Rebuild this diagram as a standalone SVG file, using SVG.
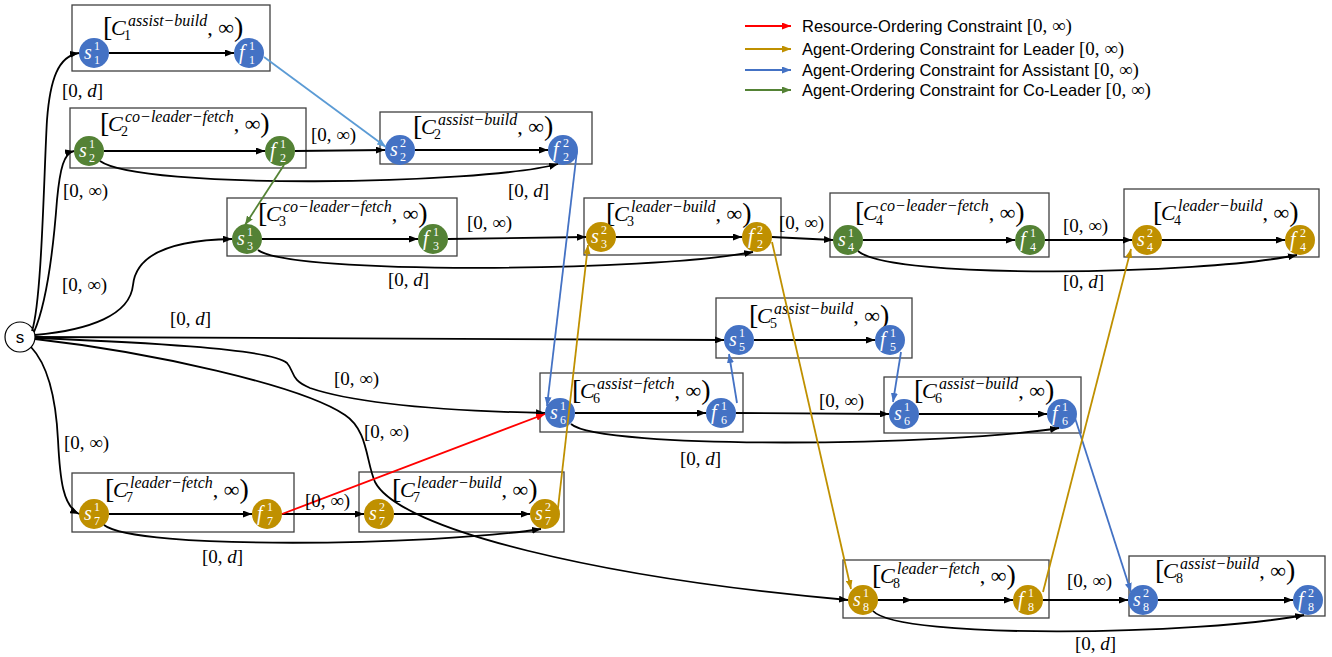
<svg xmlns="http://www.w3.org/2000/svg" width="1332" height="657" viewBox="0 0 1332 657">
<style>
.bx{fill:none;stroke:#404040;stroke-width:1.3}
.e{fill:none;stroke:#000;stroke-width:1.8}
.cb{fill:#4472C4}.cg{fill:#548235}.co{fill:#BF9000}
.nl{font-family:"Liberation Serif",serif;font-style:italic;font-size:20px;fill:#fff}
.d{font-style:normal;font-size:12px}
.tt{font-family:"Liberation Serif",serif;font-size:22px;fill:#000}
.bk{font-size:28px;font-style:normal}
.cc{font-style:italic}
.sb{font-size:14px}
.sp{font-size:16px;font-style:italic}
.lb{font-family:"Liberation Serif",serif;font-size:19px;fill:#000}
.it{font-style:italic}
.lg{font-family:"Liberation Sans",Arial,sans-serif;font-size:16.5px;fill:#000}
.lm{font-family:"Liberation Serif",serif;font-size:19px}
</style>
<defs>
<marker id="ak" markerUnits="userSpaceOnUse" viewBox="0 0 9 7" refX="9" refY="3.5" markerWidth="9" markerHeight="7" orient="auto"><path d="M0,0L9,3.5L0,7z" fill="#000"/></marker>
<marker id="ar" markerUnits="userSpaceOnUse" viewBox="0 0 9 7" refX="9" refY="3.5" markerWidth="9" markerHeight="7" orient="auto"><path d="M0,0L9,3.5L0,7z" fill="#FF0000"/></marker>
<marker id="ao" markerUnits="userSpaceOnUse" viewBox="0 0 9 7" refX="9" refY="3.5" markerWidth="9" markerHeight="7" orient="auto"><path d="M0,0L9,3.5L0,7z" fill="#BF9000"/></marker>
<marker id="ab" markerUnits="userSpaceOnUse" viewBox="0 0 9 7" refX="9" refY="3.5" markerWidth="9" markerHeight="7" orient="auto"><path d="M0,0L9,3.5L0,7z" fill="#4472C4"/></marker>
<marker id="al" markerUnits="userSpaceOnUse" viewBox="0 0 9 7" refX="9" refY="3.5" markerWidth="9" markerHeight="7" orient="auto"><path d="M0,0L9,3.5L0,7z" fill="#5B9BD5"/></marker>
<marker id="ag" markerUnits="userSpaceOnUse" viewBox="0 0 9 7" refX="9" refY="3.5" markerWidth="9" markerHeight="7" orient="auto"><path d="M0,0L9,3.5L0,7z" fill="#548235"/></marker>
</defs>
<rect width="1332" height="657" fill="#fff"/>

<g id="node-s">
<circle cx="20" cy="337" r="15" fill="#fff" stroke="#000" stroke-width="1.2"/>
<text x="20" y="343" text-anchor="middle" font-family="Liberation Sans,Arial,sans-serif" font-size="17">s</text>
</g>

<!-- Box 1 -->
<g id="box-c1-assist-build">
<rect class="bx" x="72" y="5" width="198" height="66"/>
<text class="tt"><tspan class="bk" x="103" y="36">[</tspan><tspan class="cc" x="111" y="35">C</tspan><tspan class="sb" x="124" y="40">1</tspan><tspan class="sp" x="128" y="26">assist−build</tspan><tspan y="35">, ∞</tspan><tspan class="bk" y="36">)</tspan></text>
<g id="n-s1-1"><circle class="cb" cx="94" cy="53" r="15"/><text class="nl" x="84" y="59">s<tspan class="d" x="94" y="50">1</tspan><tspan class="d" x="94" y="64">1</tspan></text></g>
<g id="n-f1-1"><circle class="cb" cx="249" cy="53" r="15"/><text class="nl" x="239" y="59">f<tspan class="d" x="249" y="50">1</tspan><tspan class="d" x="249" y="64">1</tspan></text></g>
</g>

<!-- Box 2 -->
<g id="box-c2-coleader-fetch">
<rect class="bx" x="70" y="108" width="236" height="60"/>
<text class="tt"><tspan class="bk" x="100" y="132">[</tspan><tspan class="cc" x="108" y="131">C</tspan><tspan class="sb" x="121" y="136">2</tspan><tspan class="sp" x="125" y="122">co−leader−fetch</tspan><tspan y="131">, ∞</tspan><tspan class="bk" y="132">)</tspan></text>
<g id="n-s2-1"><circle class="cg" cx="89" cy="151" r="15"/><text class="nl" x="79" y="157">s<tspan class="d" x="89" y="148">1</tspan><tspan class="d" x="89" y="162">2</tspan></text></g>
<g id="n-f2-1"><circle class="cg" cx="280" cy="151" r="15"/><text class="nl" x="270" y="157">f<tspan class="d" x="280" y="148">1</tspan><tspan class="d" x="280" y="162">2</tspan></text></g>
</g>

<!-- Box 2b -->
<g id="box-c2-assist-build">
<rect class="bx" x="380" y="112" width="212" height="52"/>
<text class="tt"><tspan class="bk" x="413" y="135">[</tspan><tspan class="cc" x="421" y="134">C</tspan><tspan class="sb" x="434" y="139">2</tspan><tspan class="sp" x="438" y="125">assist−build</tspan><tspan y="134">, ∞</tspan><tspan class="bk" y="135">)</tspan></text>
<g id="n-s2-2"><circle class="cb" cx="400" cy="150" r="15"/><text class="nl" x="390" y="156">s<tspan class="d" x="400" y="147">2</tspan><tspan class="d" x="400" y="161">2</tspan></text></g>
<g id="n-f2-2"><circle class="cb" cx="563" cy="150" r="15"/><text class="nl" x="553" y="156">f<tspan class="d" x="563" y="147">2</tspan><tspan class="d" x="563" y="161">2</tspan></text></g>
</g>

<!-- Box 3 -->
<g id="box-c3-coleader-fetch">
<rect class="bx" x="227" y="198" width="230" height="58"/>
<text class="tt"><tspan class="bk" x="258" y="222">[</tspan><tspan class="cc" x="266" y="221">C</tspan><tspan class="sb" x="279" y="226">3</tspan><tspan class="sp" x="283" y="212">co−leader−fetch</tspan><tspan y="221">, ∞</tspan><tspan class="bk" y="222">)</tspan></text>
<g id="n-s3-1"><circle class="cg" cx="247" cy="239" r="15"/><text class="nl" x="237" y="245">s<tspan class="d" x="247" y="236">1</tspan><tspan class="d" x="247" y="250">3</tspan></text></g>
<g id="n-f3-1"><circle class="cg" cx="433" cy="239" r="15"/><text class="nl" x="423" y="245">f<tspan class="d" x="433" y="236">1</tspan><tspan class="d" x="433" y="250">3</tspan></text></g>
</g>

<!-- Box 3b -->
<g id="box-c3-leader-build">
<rect class="bx" x="584" y="198" width="197" height="57"/>
<text class="tt"><tspan class="bk" x="606" y="222">[</tspan><tspan class="cc" x="614" y="221">C</tspan><tspan class="sb" x="627" y="226">3</tspan><tspan class="sp" x="631" y="212" font-size="15">leader−build</tspan><tspan y="221">, ∞</tspan><tspan class="bk" y="222">)</tspan></text>
<g id="n-s3-2"><circle class="co" cx="601" cy="237" r="15"/><text class="nl" x="591" y="243">s<tspan class="d" x="601" y="234">2</tspan><tspan class="d" x="601" y="248">3</tspan></text></g>
<g id="n-f3-2"><circle class="co" cx="757" cy="237" r="15"/><text class="nl" x="748" y="243">f<tspan class="d" x="757" y="234">2</tspan><tspan class="d" x="757" y="248">2</tspan></text></g>
</g>

<!-- Box 4 -->
<g id="box-c4-coleader-fetch">
<rect class="bx" x="830" y="193" width="219" height="64"/>
<text class="tt"><tspan class="bk" x="855" y="221">[</tspan><tspan class="cc" x="863" y="220">C</tspan><tspan class="sb" x="876" y="225">4</tspan><tspan class="sp" x="880" y="211">co−leader−fetch</tspan><tspan y="220">, ∞</tspan><tspan class="bk" y="221">)</tspan></text>
<g id="n-s4-1"><circle class="cg" cx="848" cy="240" r="15"/><text class="nl" x="838" y="246">s<tspan class="d" x="848" y="237">1</tspan><tspan class="d" x="848" y="251">4</tspan></text></g>
<g id="n-f4-1"><circle class="cg" cx="1030" cy="240" r="15"/><text class="nl" x="1020" y="246">f<tspan class="d" x="1030" y="237">1</tspan><tspan class="d" x="1030" y="251">4</tspan></text></g>
</g>

<!-- Box 4b -->
<g id="box-c4-leader-build">
<rect class="bx" x="1124" y="189" width="195" height="68"/>
<text class="tt"><tspan class="bk" x="1153" y="221">[</tspan><tspan class="cc" x="1161" y="220">C</tspan><tspan class="sb" x="1174" y="225">4</tspan><tspan class="sp" x="1178" y="211">leader−build</tspan><tspan y="220">, ∞</tspan><tspan class="bk" y="221">)</tspan></text>
<g id="n-s4-2"><circle class="co" cx="1147" cy="240" r="15"/><text class="nl" x="1137" y="246">s<tspan class="d" x="1147" y="237">2</tspan><tspan class="d" x="1147" y="251">4</tspan></text></g>
<g id="n-f4-2"><circle class="co" cx="1300" cy="240" r="15"/><text class="nl" x="1290" y="246">f<tspan class="d" x="1300" y="237">2</tspan><tspan class="d" x="1300" y="251">4</tspan></text></g>
</g>

<!-- Box 5 -->
<g id="box-c5-assist-build">
<rect class="bx" x="716" y="298" width="196" height="60"/>
<text class="tt"><tspan class="bk" x="749" y="324">[</tspan><tspan class="cc" x="757" y="323">C</tspan><tspan class="sb" x="770" y="328">5</tspan><tspan class="sp" x="774" y="314">assist−build</tspan><tspan y="323">, ∞</tspan><tspan class="bk" y="324">)</tspan></text>
<g id="n-s5-1"><circle class="cb" cx="739" cy="340" r="15"/><text class="nl" x="729" y="346">s<tspan class="d" x="739" y="337">1</tspan><tspan class="d" x="739" y="351">5</tspan></text></g>
<g id="n-f5-1"><circle class="cb" cx="890" cy="340" r="15"/><text class="nl" x="880" y="346">f<tspan class="d" x="890" y="337">1</tspan><tspan class="d" x="890" y="351">5</tspan></text></g>
</g>

<!-- Box 6 -->
<g id="box-c6-assist-fetch">
<rect class="bx" x="540" y="373" width="203" height="59"/>
<text class="tt"><tspan class="bk" x="572" y="399">[</tspan><tspan class="cc" x="580" y="398">C</tspan><tspan class="sb" x="593" y="403">6</tspan><tspan class="sp" x="597" y="389">assist−fetch</tspan><tspan y="398">, ∞</tspan><tspan class="bk" y="399">)</tspan></text>
<g id="n-s6-1"><circle class="cb" cx="560" cy="413" r="15"/><text class="nl" x="550" y="419">s<tspan class="d" x="560" y="410">1</tspan><tspan class="d" x="560" y="424">6</tspan></text></g>
<g id="n-f6-1"><circle class="cb" cx="721" cy="413" r="15"/><text class="nl" x="711" y="419">f<tspan class="d" x="721" y="410">1</tspan><tspan class="d" x="721" y="424">6</tspan></text></g>
</g>

<!-- Box 6b -->
<g id="box-c6-assist-build">
<rect class="bx" x="884" y="377" width="197" height="56"/>
<text class="tt"><tspan class="bk" x="914" y="399">[</tspan><tspan class="cc" x="922" y="398">C</tspan><tspan class="sb" x="935" y="403">6</tspan><tspan class="sp" x="939" y="389">assist−build</tspan><tspan y="398">, ∞</tspan><tspan class="bk" y="399">)</tspan></text>
<g id="n-s6-1b"><circle class="cb" cx="904" cy="414" r="15"/><text class="nl" x="894" y="420">s<tspan class="d" x="904" y="411">1</tspan><tspan class="d" x="904" y="425">6</tspan></text></g>
<g id="n-f6-1b"><circle class="cb" cx="1062" cy="414" r="15"/><text class="nl" x="1052" y="420">f<tspan class="d" x="1062" y="411">1</tspan><tspan class="d" x="1062" y="425">6</tspan></text></g>
</g>

<!-- Box 7 -->
<g id="box-c7-leader-fetch">
<rect class="bx" x="72" y="473" width="222" height="59"/>
<text class="tt"><tspan class="bk" x="105" y="498">[</tspan><tspan class="cc" x="113" y="497">C</tspan><tspan class="sb" x="126" y="502">7</tspan><tspan class="sp" x="130" y="488">leader−fetch</tspan><tspan y="497">, ∞</tspan><tspan class="bk" y="498">)</tspan></text>
<g id="n-s7-1"><circle class="co" cx="94" cy="514" r="15"/><text class="nl" x="84" y="520">s<tspan class="d" x="94" y="511">1</tspan><tspan class="d" x="94" y="525">7</tspan></text></g>
<g id="n-f7-1"><circle class="co" cx="267" cy="514" r="15"/><text class="nl" x="257" y="520">f<tspan class="d" x="267" y="511">1</tspan><tspan class="d" x="267" y="525">7</tspan></text></g>
</g>

<!-- Box 7b -->
<g id="box-c7-leader-build">
<rect class="bx" x="359" y="472" width="205" height="60"/>
<text class="tt"><tspan class="bk" x="392" y="498">[</tspan><tspan class="cc" x="400" y="497">C</tspan><tspan class="sb" x="413" y="502">7</tspan><tspan class="sp" x="417" y="488">leader−build</tspan><tspan y="497">, ∞</tspan><tspan class="bk" y="498">)</tspan></text>
<g id="n-s7-2"><circle class="co" cx="379" cy="514" r="15"/><text class="nl" x="369" y="520">s<tspan class="d" x="379" y="511">2</tspan><tspan class="d" x="379" y="525">7</tspan></text></g>
<g id="n-f7-2"><circle class="co" cx="545" cy="514" r="15"/><text class="nl" x="535" y="520">s<tspan class="d" x="545" y="511">2</tspan><tspan class="d" x="545" y="525">7</tspan></text></g>
</g>

<!-- Box 8 -->
<g id="box-c8-leader-fetch">
<rect class="bx" x="843" y="560" width="206" height="58"/>
<text class="tt"><tspan class="bk" x="872" y="584">[</tspan><tspan class="cc" x="880" y="583">C</tspan><tspan class="sb" x="893" y="588">8</tspan><tspan class="sp" x="897" y="574">leader−fetch</tspan><tspan y="583">, ∞</tspan><tspan class="bk" y="584">)</tspan></text>
<g id="n-s8-1"><circle class="co" cx="863" cy="600" r="15"/><text class="nl" x="853" y="606">s<tspan class="d" x="863" y="597">1</tspan><tspan class="d" x="863" y="611">8</tspan></text></g>
<g id="n-f8-1"><circle class="co" cx="1028" cy="600" r="15"/><text class="nl" x="1018" y="606">f<tspan class="d" x="1028" y="597">1</tspan><tspan class="d" x="1028" y="611">8</tspan></text></g>
</g>

<!-- Box 8b -->
<g id="box-c8-assist-build">
<rect class="bx" x="1129" y="556" width="196" height="60"/>
<text class="tt"><tspan class="bk" x="1155" y="579">[</tspan><tspan class="cc" x="1163" y="578">C</tspan><tspan class="sb" x="1176" y="583">8</tspan><tspan class="sp" x="1180" y="569">assist−build</tspan><tspan y="578">, ∞</tspan><tspan class="bk" y="579">)</tspan></text>
<g id="n-s8-2"><circle class="cb" cx="1143" cy="600" r="15"/><text class="nl" x="1133" y="606">s<tspan class="d" x="1143" y="597">2</tspan><tspan class="d" x="1143" y="611">8</tspan></text></g>
<g id="n-f8-2"><circle class="cb" cx="1308" cy="600" r="15"/><text class="nl" x="1298" y="606">f<tspan class="d" x="1308" y="597">2</tspan><tspan class="d" x="1308" y="611">8</tspan></text></g>
</g>

<g id="connectors">
<!-- from s -->
<path class="e" marker-end="url(#ak)" d="M32,331 C42,300 44,170 47,120 C50,80 58,56 79,53"/>
<path class="e" marker-end="url(#ak)" d="M34,332 C48,300 54,240 57,200 C60,168 64,153 74,151"/>
<path class="e" marker-end="url(#ak)" d="M35,335 C90,330 130,315 133,285 C136,255 170,240 232,239"/>
<path class="e" marker-end="url(#ak)" d="M35,337 L724,340"/>
<path class="e" marker-end="url(#ak)" d="M35,338 C130,342 270,348 287,363 C295,372 290,380 310,388 C360,405 450,411 545,413"/>
<path class="e" marker-end="url(#ak)" d="M35,339 C150,352 300,385 345,415 C368,430 366,462 375,482 C400,530 600,578 848,600"/>
<path class="e" marker-end="url(#ak)" d="M31,347 C48,365 56,400 58,440 C60,480 63,506 79,514"/>
<!-- within / between boxes -->
<path class="e" marker-end="url(#ak)" d="M109,53 L234,53"/>
<path class="e" marker-end="url(#ak)" d="M104,151 L265,151"/>
<path class="e" marker-end="url(#ak)" d="M295,151 L385,150"/>
<path class="e" marker-end="url(#ak)" d="M415,150 L548,150"/>
<path class="e" marker-end="url(#ak)" d="M100,161 C140,190 480,185 558,164"/>
<path class="e" marker-end="url(#ak)" d="M262,239 L418,239"/>
<path class="e" marker-end="url(#ak)" d="M448,239 L586,237"/>
<path class="e" marker-end="url(#ak)" d="M616,237 L742,237"/>
<path class="e" marker-end="url(#ak)" d="M258,250 C290,275 650,272 753,252"/>
<path class="e" marker-end="url(#ak)" d="M772,237 L833,240"/>
<path class="e" marker-end="url(#ak)" d="M863,240 L1015,240"/>
<path class="e" marker-end="url(#ak)" d="M1045,240 L1132,240"/>
<path class="e" marker-end="url(#ak)" d="M1162,240 L1285,240"/>
<path class="e" marker-end="url(#ak)" d="M858,251 C890,280 1200,275 1297,255"/>
<path class="e" marker-end="url(#ak)" d="M754,340 L875,340"/>
<path class="e" marker-end="url(#ak)" d="M575,413 L706,413"/>
<path class="e" marker-end="url(#ak)" d="M736,413 L889,414"/>
<path class="e" marker-end="url(#ak)" d="M919,414 L1047,414"/>
<path class="e" marker-end="url(#ak)" d="M571,424 C600,450 950,446 1059,428"/>
<path class="e" marker-end="url(#ak)" d="M109,514 L252,514"/>
<path class="e" marker-end="url(#ak)" d="M282,514 L364,514"/>
<path class="e" marker-end="url(#ak)" d="M394,514 L530,514"/>
<path class="e" marker-end="url(#ak)" d="M104,525 C135,550 430,546 541,529"/>
<path class="e" marker-mid="url(#ak)" marker-end="url(#ak)" d="M878,600 L912,600 L1013,600"/>
<path class="e" marker-end="url(#ak)" d="M1043,600 L1128,600"/>
<path class="e" marker-end="url(#ak)" d="M1158,600 L1293,600"/>
<path class="e" marker-end="url(#ak)" d="M873,611 C900,640 1200,635 1304,615"/>
<!-- coloured ordering constraints -->
<path fill="none" stroke="#5B9BD5" stroke-width="1.8" marker-end="url(#al)" d="M264,57 L386,147"/>
<path fill="none" stroke="#548235" stroke-width="1.8" marker-end="url(#ag)" d="M284,165 L245,225"/>
<path fill="none" stroke="#4472C4" stroke-width="1.8" marker-end="url(#ab)" d="M577,151 L547,406"/>
<path fill="none" stroke="#4472C4" stroke-width="1.8" marker-end="url(#ab)" d="M737,403 L729,354"/>
<path fill="none" stroke="#4472C4" stroke-width="1.8" marker-end="url(#ab)" d="M901,352 L893,402"/>
<path fill="none" stroke="#4472C4" stroke-width="1.8" marker-end="url(#ab)" d="M1075,418 L1131,592"/>
<path fill="none" stroke="#FF0000" stroke-width="1.8" marker-end="url(#ar)" d="M282,514 L545,414"/>
<path fill="none" stroke="#BF9000" stroke-width="1.8" marker-end="url(#ao)" d="M558,508 L588,245"/>
<path fill="none" stroke="#BF9000" stroke-width="1.8" marker-end="url(#ao)" d="M772,242 L851,589"/>
<path fill="none" stroke="#BF9000" stroke-width="1.8" marker-end="url(#ao)" d="M1043,592 L1131,249"/>
<!-- labels -->
<text class="lb" x="62" y="97">[0, <tspan class="it">d</tspan>]</text>
<text class="lb" x="63" y="197">[0, ∞)</text>
<text class="lb" x="311" y="141">[0, ∞)</text>
<text class="lb" x="508" y="197">[0, <tspan class="it">d</tspan>]</text>
<text class="lb" x="467" y="229">[0, ∞)</text>
<text class="lb" x="62" y="291">[0, ∞)</text>
<text class="lb" x="388" y="286">[0, <tspan class="it">d</tspan>]</text>
<text class="lb" x="779" y="229">[0, ∞)</text>
<text class="lb" x="1063" y="232">[0, ∞)</text>
<text class="lb" x="1063" y="288">[0, <tspan class="it">d</tspan>]</text>
<text class="lb" x="170" y="325">[0, <tspan class="it">d</tspan>]</text>
<text class="lb" x="334" y="385">[0, ∞)</text>
<text class="lb" x="819" y="407">[0, ∞)</text>
<text class="lb" x="680" y="465">[0, <tspan class="it">d</tspan>]</text>
<text class="lb" x="364" y="438">[0, ∞)</text>
<text class="lb" x="64" y="449">[0, ∞)</text>
<text class="lb" x="305" y="507">[0, ∞)</text>
<text class="lb" x="202" y="563">[0, <tspan class="it">d</tspan>]</text>
<text class="lb" x="1067" y="587">[0, ∞)</text>
<text class="lb" x="1075" y="650">[0, <tspan class="it">d</tspan>]</text>
</g>

<g id="legend">
<path fill="none" stroke="#FF0000" stroke-width="1.8" marker-end="url(#ar)" d="M745,26 L791,26"/>
<path fill="none" stroke="#BF9000" stroke-width="1.8" marker-end="url(#ao)" d="M745,49 L791,49"/>
<path fill="none" stroke="#4472C4" stroke-width="1.8" marker-end="url(#ab)" d="M745,70 L791,70"/>
<path fill="none" stroke="#548235" stroke-width="1.8" marker-end="url(#ag)" d="M745,90 L791,90"/>
<text class="lg" x="802" y="32">Resource-Ordering Constraint <tspan class="lm">[0, ∞)</tspan></text>
<text class="lg" x="802" y="55">Agent-Ordering Constraint for Leader <tspan class="lm">[0, ∞)</tspan></text>
<text class="lg" x="802" y="76">Agent-Ordering Constraint for Assistant <tspan class="lm">[0, ∞)</tspan></text>
<text class="lg" x="802" y="96">Agent-Ordering Constraint for Co-Leader <tspan class="lm">[0, ∞)</tspan></text>
</g>
</svg>
